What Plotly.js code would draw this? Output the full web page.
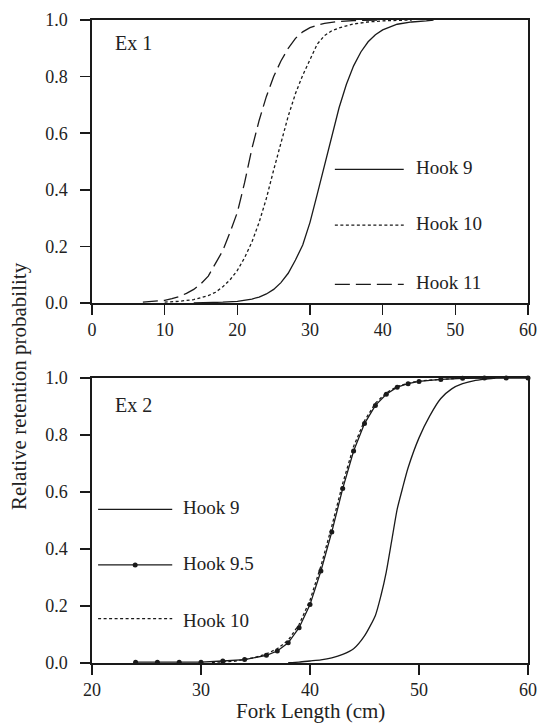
<!DOCTYPE html>
<html>
<head>
<meta charset="utf-8">
<script src="https://cdn.plot.ly/plotly-3.0.1.min.js"></script>
<style>
html,body{margin:0;padding:0;background:#fff;}
#chart{width:541px;height:727px;}
#chart svg text{font-family:'Liberation Serif' !important;}
</style>
</head>
<body>
<div id="chart"></div>
<script>
// ---- Ex 1 (top panel) ----
var ex1Hook9X = [14,16,18,20,22,23,24,25,26,27,28,29,30,31,32,33,34,35,36,37,38,39,40,42,44,46,47];
var ex1Hook9Y = [0.0005,0.0012,0.0027,0.006,0.014,0.021,0.032,0.048,0.072,0.105,0.152,0.205,0.285,0.385,0.49,0.594,0.69,0.772,0.838,0.887,0.923,0.948,0.965,0.985,0.993,0.997,1.0];
var ex1Hook10X = [10,12,14,16,17,18,19,20,21,22,23,24,25,26,27,28,29,30,31,32,33,34,35,36,38,40,44];
var ex1Hook10Y = [0.003,0.006,0.012,0.026,0.038,0.057,0.082,0.115,0.16,0.215,0.285,0.37,0.47,0.565,0.66,0.74,0.805,0.86,0.915,0.945,0.962,0.972,0.98,0.986,0.993,0.997,1.0];
var ex1Hook11X = [7,9,10,11,12,13,14,15,16,17,18,19,20,21,22,23,24,25,26,27,28,29,30,31,32,34,36,40];
var ex1Hook11Y = [0.003,0.006,0.009,0.015,0.023,0.034,0.048,0.068,0.095,0.14,0.185,0.25,0.32,0.425,0.545,0.645,0.73,0.80,0.855,0.90,0.935,0.958,0.973,0.982,0.988,0.995,0.998,1.0];

// ---- Ex 2 (bottom panel) ----
var ex2Hook9X = [38,39,40,41,42,43,44,45,46,46.5,47,47.5,48,48.5,49,50,51,52,53,54,55,56,57];
var ex2Hook9Y = [0.001,0.003,0.007,0.011,0.018,0.03,0.05,0.095,0.167,0.235,0.32,0.43,0.54,0.615,0.685,0.79,0.868,0.928,0.962,0.98,0.99,0.996,1.0];
var ex2Hook95X = [24,26,28,30,32,34,36,37,38,39,40,41,42,43,44,45,46,47,48,49,50,52,54,56,58,60];
var ex2Hook95Y = [0.003,0.003,0.003,0.003,0.007,0.012,0.027,0.042,0.071,0.124,0.205,0.323,0.46,0.612,0.744,0.84,0.904,0.943,0.968,0.98,0.988,0.995,0.999,1.0,1.0,1.0];
var ex2Hook10X = [31,33,34,35,36,37,38,39,40,41,42,43,44,45,46,47,48,49,50,52,54];
var ex2Hook10Y = [0.002,0.006,0.012,0.02,0.032,0.05,0.08,0.135,0.22,0.34,0.48,0.63,0.76,0.85,0.912,0.948,0.97,0.982,0.99,0.996,1.0];

var ex1Labels = ["Hook 9","Hook 10","Hook 11"];
var ex2Labels = ["Hook 9","Hook 9.5","Hook 10"];
var panelLabels = ["Ex 1","Ex 2"];
var yTitle = "Relative retention probability";
var xTitle = "Fork Length (cm)";

var INK = "#1a1a1a";
var FONT = "Liberation Serif";
var LW = 1.3;

var traces = [
  {x: ex1Hook9X, y: ex1Hook9Y, xaxis:"x", yaxis:"y", mode:"lines", line:{color:INK,width:LW}, name:ex1Labels[0]},
  {x: ex1Hook10X, y: ex1Hook10Y, xaxis:"x", yaxis:"y", mode:"lines", line:{color:INK,width:LW,dash:"3px,2.5px"}, name:ex1Labels[1]},
  {x: ex1Hook11X, y: ex1Hook11Y, xaxis:"x", yaxis:"y", mode:"lines", line:{color:INK,width:LW,dash:"15px,6px"}, name:ex1Labels[2]},
  {x: ex2Hook9X, y: ex2Hook9Y, xaxis:"x2", yaxis:"y2", mode:"lines", line:{color:INK,width:LW,shape:"spline",smoothing:0.6}, name:ex2Labels[0]},
  {x: ex2Hook10X, y: ex2Hook10Y, xaxis:"x2", yaxis:"y2", mode:"lines", line:{color:INK,width:LW,dash:"3px,2.5px"}, name:ex2Labels[2]},
  {x: ex2Hook95X, y: ex2Hook95Y, xaxis:"x2", yaxis:"y2", mode:"lines+markers", line:{color:INK,width:LW}, marker:{color:INK,size:5}, cliponaxis:false, name:ex2Labels[1]}
];

function axisCommon(extra){
  var a = {showline:true, linecolor:INK, linewidth:1.6, mirror:true, ticks:"outside", ticklen:10, tickwidth:1.5, tickcolor:INK,
           showgrid:false, zeroline:false, tickfont:{family:FONT,size:18,color:"#222"}, fixedrange:true};
  for (var k in extra) a[k] = extra[k];
  return a;
}

var shapes = [];
var annotations = [];
function legLine(xr, yr, x0, x1, y, dash){
  shapes.push({type:"line", xref:xr, yref:yr, x0:x0, x1:x1, y0:y, y1:y, line:{color:INK, width:LW, dash:dash||"solid"}});
}
function legText(xr, yr, x, y, txt){
  annotations.push({xref:xr, yref:yr, x:x, y:y, text:txt, showarrow:false, xanchor:"left", yanchor:"middle",
                    font:{family:FONT,size:19,color:"#222"}});
}
// top legend
legLine("x domain","y domain",0.557,0.715,0.472,"solid");
legLine("x domain","y domain",0.557,0.715,0.275,"3px,2.5px");
legLine("x domain","y domain",0.557,0.715,0.066,"15px,6px");
legText("x domain","y domain",0.738,0.478,ex1Labels[0]);
legText("x domain","y domain",0.738,0.281,ex1Labels[1]);
legText("x domain","y domain",0.738,0.072,ex1Labels[2]);
// bottom legend
legLine("x2 domain","y2 domain",0.014,0.184,0.539,"solid");
legLine("x2 domain","y2 domain",0.014,0.184,0.344,"solid");
legLine("x2 domain","y2 domain",0.014,0.184,0.156,"3px,2.5px");
shapes.push({type:"circle", xref:"x2 domain", yref:"y2 domain", xsizemode:"pixel", ysizemode:"pixel",
             xanchor:0.099, yanchor:0.344, x0:-2.5, x1:2.5, y0:-2.5, y1:2.5, fillcolor:INK, line:{color:INK,width:0}});
legText("x2 domain","y2 domain",0.205,0.545,ex2Labels[0]);
legText("x2 domain","y2 domain",0.205,0.350,ex2Labels[1]);
legText("x2 domain","y2 domain",0.205,0.150,ex2Labels[2]);
// panel labels
annotations.push({xref:"x domain", yref:"y domain", x:0.049, y:0.918, text:panelLabels[0], showarrow:false, xanchor:"left", yanchor:"middle", font:{family:FONT,size:20,color:"#222"}});
annotations.push({xref:"x2 domain", yref:"y2 domain", x:0.049, y:0.905, text:panelLabels[1], showarrow:false, xanchor:"left", yanchor:"middle", font:{family:FONT,size:20,color:"#222"}});
// axis titles
annotations.push({xref:"paper", yref:"paper", x:-0.167, y:0.431, text:yTitle, textangle:-90, showarrow:false, xanchor:"center", yanchor:"middle", font:{family:FONT,size:21,color:"#222"}});
annotations.push({xref:"paper", yref:"paper", x:0.5, y:-0.074, text:xTitle, showarrow:false, xanchor:"center", yanchor:"middle", font:{family:FONT,size:21,color:"#222"}});

var layout = {
  width:541, height:727,
  margin:{l:92, r:13, t:20, b:64},
  paper_bgcolor:"#fff", plot_bgcolor:"#fff",
  showlegend:false,
  font:{family:FONT, color:"#222"},
  xaxis: axisCommon({domain:[0,1], range:[0,60], dtick:10, tick0:0, anchor:"y"}),
  yaxis: axisCommon({domain:[0.5599,1], range:[0,1], dtick:0.2, tick0:0, tickformat:".1f", anchor:"x", ticklabelstandoff:9}),
  xaxis2: axisCommon({domain:[0,1], range:[20,60], dtick:10, tick0:20, anchor:"y2"}),
  yaxis2: axisCommon({domain:[0,0.4432], range:[0,1], dtick:0.2, tick0:0, tickformat:".1f", anchor:"x2", ticklabelstandoff:9}),
  shapes: shapes,
  annotations: annotations
};

Plotly.newPlot("chart", traces, layout, {displayModeBar:false, staticPlot:true});
</script>
</body>
</html>
